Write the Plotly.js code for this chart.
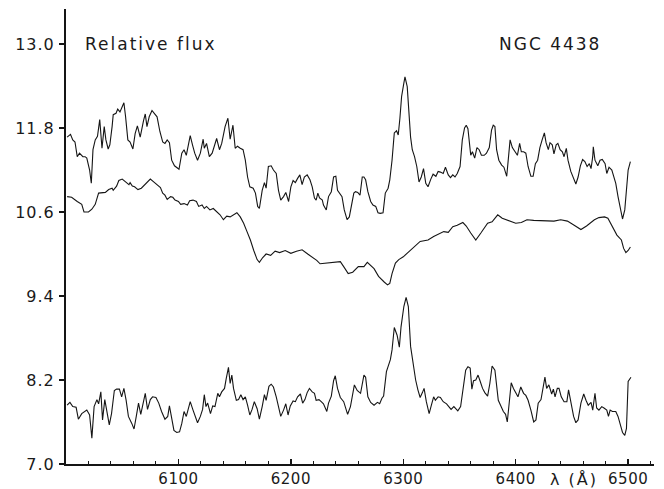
<!DOCTYPE html>
<html>
<head>
<meta charset="utf-8">
<script src="https://cdn.plot.ly/plotly-3.0.1.min.js"></script>
<style>
  html, body { margin: 0; padding: 0; background: #fff; }
  #chart { width: 664px; height: 489px; }
  .ytick text { letter-spacing: 1px; }
  .xtick text { letter-spacing: 0.5px; }
  .annotation-text { letter-spacing: 2px; }
</style>
</head>
<body>
<div id="chart"></div>
<script>
// Upper spectrum (observed, with emission lines)
const waveUpper = [6001,6004,6006,6008,6010,6012,6015,6017,6018.5,6021,6022.5,6024,6026,6028,6030,6032,6034,6035.5,6037.5,6039,6041,6042,6044.5,6046,6048,6050,6051.5,6053,6055,6057,6059.5,6061.5,6063.5,6066,6067.5,6069,6070.5,6072,6074,6076.5,6078.5,6081,6083.5,6086,6088,6090,6092,6094,6096.5,6098.5,6100.5,6103,6105,6107,6109,6110.5,6112.5,6114.5,6117,6119.5,6122,6123,6125,6127.5,6130,6132,6134,6136.5,6138.5,6141.5,6144,6146,6148.5,6150.5,6152.5,6155,6157.5,6159.5,6161.5,6163.5,6166.5,6168.5,6170.5,6172,6174.5,6176.5,6178,6180,6182.5,6184.5,6187,6189,6191,6193.5,6195.5,6198,6200,6202,6204,6206,6208,6210,6212,6214.5,6217,6219,6221,6222.5,6224,6225.5,6228,6229,6231.5,6233.5,6236,6238,6240,6241.5,6243.5,6245.5,6247.5,6250,6252,6254.5,6256,6257.5,6259.5,6261.5,6263.5,6265,6266.5,6268.5,6271,6273,6275.5,6277.5,6279.5,6282,6284,6286.5,6288,6290,6292,6294,6295.5,6297,6298.5,6300.5,6301.5,6303.5,6305,6306.5,6308,6310,6312,6314,6316,6318,6320,6322,6324.5,6326.5,6329,6331,6333,6335.5,6337.5,6340,6342,6344,6346,6348,6350.5,6352.5,6354.5,6356,6357.5,6359,6360,6361.5,6363.5,6365.5,6367.5,6369.5,6372,6374,6376.5,6378.5,6380,6381.5,6383,6385,6387.5,6389.5,6392,6393.5,6395,6397,6399,6401.5,6403.5,6405,6407,6409,6411,6413.5,6415.5,6417.5,6419.5,6421.5,6423.5,6425.5,6427,6429,6430.5,6432.5,6434,6436,6437.5,6439.5,6441.5,6443,6445,6446.5,6449,6451.5,6453.5,6455.5,6457.5,6459.5,6461.5,6463.5,6465.5,6467,6468.5,6469,6470.5,6473,6475,6477,6479.5,6481,6483,6485.5,6487,6489,6491,6493,6495,6497,6499,6500,6502];
const fluxUpper = [11.67,11.71,11.63,11.60,11.39,11.44,11.39,11.39,11.37,11.20,11.01,11.49,11.63,11.68,11.92,11.51,11.82,11.63,11.50,11.56,11.82,11.99,12.01,12.07,12.03,12.10,12.16,11.96,11.63,11.60,11.50,11.72,11.83,11.67,11.82,11.91,12.00,11.82,11.96,12.05,12.01,11.96,11.75,11.60,11.58,11.63,11.59,11.34,11.26,11.24,11.21,11.44,11.49,11.41,11.60,11.69,11.56,11.44,11.34,11.44,11.64,11.51,11.58,11.39,11.44,11.53,11.65,11.49,11.58,11.82,11.94,11.64,11.84,11.51,11.54,11.51,11.49,11.34,11.10,10.96,10.94,10.87,10.68,10.65,10.91,11.02,10.94,11.25,11.26,11.20,11.15,10.91,10.77,10.82,10.88,10.75,10.96,11.05,11.02,11.08,11.13,10.99,11.10,11.13,11.06,10.96,10.80,10.77,10.87,10.80,10.77,10.70,10.63,10.82,10.89,11.10,11.11,10.91,10.86,10.82,10.63,10.49,10.53,10.72,10.87,10.89,10.88,10.84,11.10,11.10,11.06,10.89,10.75,10.70,10.68,10.59,10.58,10.59,10.87,10.94,11.06,11.34,11.73,11.76,11.70,11.94,12.25,12.44,12.53,12.39,12.01,11.67,11.49,11.39,11.25,11.03,11.10,11.22,11.01,10.96,11.07,11.14,11.11,11.18,11.17,11.15,11.24,11.13,11.09,11.13,11.10,11.15,11.25,11.63,11.80,11.84,11.79,11.53,11.41,11.46,11.37,11.52,11.49,11.41,11.41,11.44,11.52,11.77,11.84,11.82,11.49,11.34,11.27,11.24,11.11,11.37,11.63,11.52,11.47,11.41,11.58,11.46,11.46,11.44,11.25,11.11,11.11,11.29,11.34,11.52,11.63,11.73,11.59,11.49,11.59,11.56,11.43,11.56,11.58,11.49,11.46,11.39,11.51,11.34,11.18,11.07,11.00,11.10,11.26,11.35,11.32,11.25,11.29,11.22,11.39,11.53,11.34,11.26,11.34,11.35,11.29,11.15,11.24,11.20,11.13,11.01,10.82,10.65,10.50,10.63,10.96,11.20,11.32];

// Smooth continuum
const waveMiddle = [6001,6005,6010,6014,6016,6020,6023,6026,6029,6032,6035,6038,6041,6042,6045,6047,6050,6053,6056,6057,6059,6061,6064,6067,6070,6073,6075,6078,6081,6084,6086,6088,6090,6093,6095,6097,6100,6102,6105,6108,6110,6113,6116,6118,6121,6123,6125,6128,6131,6134,6137,6140,6143,6146,6149,6152,6155,6158,6161,6164,6167,6170,6172,6175,6178,6182,6186,6190,6195,6200,6205,6210,6215,6220,6223,6226,6232,6240,6244,6247,6251,6255,6260,6265,6268,6274,6278,6283,6286,6288,6290,6293,6296,6300,6305,6310,6315,6322,6327,6336,6340,6344,6348,6353,6356,6360,6364.5,6369,6375,6379,6384,6388,6394,6400,6405,6410,6416,6422,6428,6434,6440,6446,6452,6458,6463,6467,6470,6474,6479,6482,6486,6490,6494,6496,6498,6500,6502];
const fluxMiddle = [10.82,10.81,10.75,10.71,10.60,10.60,10.64,10.71,10.87,10.88,10.88,10.92,10.94,10.91,10.97,11.05,11.07,11.03,10.99,11.02,10.97,10.96,10.92,10.94,10.99,11.05,11.07,11.03,10.99,10.95,10.87,10.84,10.78,10.82,10.81,10.77,10.75,10.71,10.72,10.70,10.76,10.77,10.75,10.68,10.70,10.65,10.68,10.63,10.65,10.60,10.56,10.49,10.54,10.53,10.56,10.59,10.53,10.44,10.32,10.20,10.05,9.92,9.88,9.95,10.00,9.98,10.04,10.02,10.05,10.01,10.04,10.06,10.00,9.95,9.91,9.86,9.87,9.88,9.89,9.82,9.72,9.74,9.82,9.82,9.88,9.79,9.68,9.60,9.56,9.58,9.72,9.87,9.92,9.96,10.03,10.10,10.18,10.20,10.25,10.32,10.31,10.39,10.41,10.45,10.40,10.30,10.20,10.30,10.44,10.46,10.56,10.51,10.48,10.44,10.45,10.49,10.48,10.48,10.48,10.47,10.49,10.47,10.41,10.35,10.40,10.45,10.49,10.52,10.53,10.51,10.39,10.27,10.20,10.08,10.02,10.05,10.10];

// Lower spectrum (continuum-subtracted, shifted)
const waveLower = [6001,6003.5,6006,6009,6011,6014,6018.5,6021,6023,6025,6027.5,6029,6031,6032.5,6034.5,6036,6038.5,6040.5,6043,6045,6047.5,6049.5,6051.5,6053.5,6055.5,6058.5,6060.5,6062.5,6064.5,6066.5,6068.5,6070.5,6072.5,6075,6077,6080,6082.5,6085,6088,6090.5,6092,6094,6096,6098.5,6101,6103,6105,6107,6109,6110.5,6113,6115,6117,6119.5,6121.5,6123,6124.5,6126,6128.5,6130.5,6132.5,6135,6136.5,6138.5,6141,6142.5,6144.5,6146,6147.5,6149,6151.5,6153.5,6155.5,6157.5,6159.5,6161.5,6163.5,6165.5,6167.5,6170,6172,6174.5,6176.5,6178,6180.5,6182.5,6184.5,6187,6189,6191,6193.5,6195.5,6197.5,6199.5,6202,6204,6206,6208.5,6210.5,6212.5,6214.5,6216.5,6219,6221,6222.5,6225,6227,6229,6232,6233.5,6236,6238,6239.5,6241.5,6244,6247,6250.5,6253,6256.5,6259,6262,6265,6266.5,6268.5,6271,6274,6277,6279,6281,6282.5,6285,6288.5,6290,6292,6294.5,6296.5,6298,6300.5,6302.5,6304.5,6306.5,6309,6311,6313,6315,6317,6318.5,6320.5,6323,6325,6327,6328.5,6331,6333,6335.5,6338.5,6340.5,6342.5,6345,6346.5,6348.5,6351,6353.5,6355.5,6357.5,6359.5,6361,6362.5,6364.5,6366.5,6368,6370.5,6372.5,6375,6377,6379,6381.5,6383,6384.5,6386.5,6389,6391,6392.5,6394,6396,6398,6400,6402,6404.5,6407,6409,6411,6413.5,6416,6418,6420,6422.5,6424,6426,6427.5,6429.5,6432,6433.5,6435,6437,6438.5,6440.5,6443,6445.5,6447,6449,6451.5,6453.5,6455.5,6458,6460.5,6462.5,6464.5,6467,6468.5,6470.5,6472,6474,6476.5,6478.5,6481,6482.5,6484,6486,6489,6491,6493,6495,6497,6498.5,6500,6502.5];
const fluxLower = [7.84,7.88,7.82,7.81,7.64,7.72,7.77,7.70,7.37,7.82,7.92,7.86,8.03,7.63,7.92,7.77,7.56,7.72,8.05,8.07,8.07,7.96,8.08,7.91,7.68,7.58,7.50,7.68,7.87,7.71,7.88,8.01,7.78,7.92,7.96,7.95,7.87,7.75,7.64,7.68,7.83,7.68,7.48,7.45,7.46,7.58,7.75,7.68,7.82,7.89,7.77,7.68,7.59,7.68,7.78,7.99,7.82,7.87,7.72,7.83,7.82,8.01,7.96,8.03,8.08,8.22,8.38,8.15,8.27,8.08,7.91,7.92,7.99,7.92,7.96,7.84,7.70,7.78,7.89,7.79,7.64,7.82,7.99,7.91,8.11,8.14,8.10,7.96,7.82,7.68,7.77,7.86,7.70,7.83,7.90,7.89,7.96,8.00,7.87,7.92,8.02,8.08,8.03,8.01,7.91,7.92,7.89,7.86,7.75,7.87,7.97,8.19,8.26,8.08,7.95,7.89,7.71,7.82,8.13,8.05,8.01,8.27,8.24,7.96,7.88,7.84,7.88,7.86,7.94,7.97,8.32,8.49,8.63,8.95,8.84,8.67,8.96,9.25,9.38,9.25,8.68,8.39,8.20,8.06,7.95,8.02,8.08,7.89,7.72,7.84,7.96,7.91,7.96,7.95,7.89,7.86,7.82,7.78,7.82,7.80,7.76,7.82,8.10,8.34,8.39,8.37,8.07,8.19,8.20,8.27,8.20,8.08,8.02,7.97,8.15,8.40,8.34,8.13,7.91,7.84,7.75,7.71,7.60,7.84,8.16,8.08,8.02,7.96,8.10,8.01,7.98,7.91,7.77,7.60,7.63,7.87,7.92,8.06,8.24,8.08,8.13,8.00,8.07,7.96,8.08,8.08,7.96,7.89,7.89,8.06,7.89,7.68,7.59,7.63,7.87,8.00,7.91,7.84,7.88,7.77,8.01,7.80,7.77,7.82,7.80,7.77,7.68,7.77,7.75,7.75,7.68,7.56,7.45,7.41,7.51,8.18,8.24];

const yTickVals = [7.0, 8.2, 9.4, 10.6, 11.8, 13.0];
const yTickText = ['7.0', '8.2', '9.4', '10.6', '11.8', '13.0'];
const xTickVals = [6100, 6200, 6300, 6400, 6500];
const xTickText = ['6100', '6200', '6300', '6400', '6500'];

const X_RANGE = [6000, 6523];
const Y_RANGE = [7.0, 13.5];
const ink = '#151515';

const lineStyle = { color: ink, width: 1.1 };
const traces = [
  { x: waveUpper, y: fluxUpper, type: 'scatter', mode: 'lines', line: lineStyle, hoverinfo: 'skip' },
  { x: waveMiddle, y: fluxMiddle, type: 'scatter', mode: 'lines', line: lineStyle, hoverinfo: 'skip' },
  { x: waveLower, y: fluxLower, type: 'scatter', mode: 'lines', line: lineStyle, hoverinfo: 'skip' }
];

const family = 'DejaVu Sans, sans-serif';
const textColor = '#1a1a1a';

const layout = {
  width: 664, height: 489,
  margin: { l: 66, r: 10, t: 9, b: 25 },
  paper_bgcolor: '#fff', plot_bgcolor: '#fff',
  showlegend: false,
  font: { family: family, size: 16, color: textColor },
  // bottom axis: frame line, labels and the inner half of the major ticks
  xaxis: {
    range: X_RANGE, showgrid: false, zeroline: false,
    showline: true, linecolor: ink, linewidth: 2,
    ticks: 'inside', ticklen: 5, tickwidth: 1.3, tickcolor: ink,
    tickvals: xTickVals, ticktext: xTickText, ticklabelstandoff: 0,
    tickfont: { family: family, size: 15, color: textColor },
    minor: { ticks: 'inside', ticklen: 3, tickwidth: 1, tickcolor: ink, dtick: 20, tick0: 6000 }
  },
  // outer stubs of the major ticks below the frame
  xaxis2: {
    overlaying: 'x', anchor: 'y', side: 'bottom', range: X_RANGE,
    showgrid: false, zeroline: false, showline: false, showticklabels: false,
    ticks: 'outside', ticklen: 3, tickwidth: 1.3, tickcolor: ink,
    tickvals: xTickVals
  },
  // top frame with minor ticks
  xaxis3: {
    overlaying: 'x', anchor: 'y', side: 'top', range: X_RANGE,
    showgrid: false, zeroline: false, showline: true, linecolor: '#333', linewidth: 1.4,
    showticklabels: false, ticks: 'inside', ticklen: 4, tickwidth: 1, tickcolor: '#333',
    tick0: 6000, dtick: 20
  },
  yaxis: {
    range: Y_RANGE, showgrid: false, zeroline: false,
    showline: true, linecolor: ink, linewidth: 2,
    ticks: 'outside', ticklen: 5, tickwidth: 1.3, tickcolor: ink,
    tickvals: yTickVals, ticktext: yTickText, ticklabelstandoff: 1,
    tickfont: { family: family, size: 16, color: textColor }
  },
  yaxis2: {
    overlaying: 'y', anchor: 'x', side: 'left', range: Y_RANGE,
    showgrid: false, zeroline: false, showline: false, showticklabels: false,
    ticks: 'inside', ticklen: 5, tickwidth: 1.3, tickcolor: ink,
    tick0: 7.0, dtick: 1.2,
    minor: { ticks: 'inside', ticklen: 4, tickwidth: 1, tickcolor: ink, dtick: 0.6, tick0: 7.0 }
  },
  yaxis3: {
    overlaying: 'y', anchor: 'x', side: 'right', range: Y_RANGE,
    showgrid: false, zeroline: false, showline: true, linecolor: '#333', linewidth: 1.4,
    showticklabels: false, ticks: 'inside', ticklen: 4, tickwidth: 1, tickcolor: '#333',
    tick0: 7.0, dtick: 0.6
  },
  annotations: [
    { text: 'Relative flux', xref: 'paper', yref: 'y', x: 0.029, y: 13.0,
      xanchor: 'left', yanchor: 'middle', showarrow: false, font: { family: family, size: 17, color: textColor } },
    { text: 'NGC 4438', xref: 'x', yref: 'y', x: 6383, y: 13.0,
      xanchor: 'left', yanchor: 'middle', showarrow: false, font: { family: family, size: 17, color: textColor } },
    { text: 'λ (Å)', xref: 'x', yref: 'paper', x: 6452, y: 0, yshift: -15,
      xanchor: 'center', yanchor: 'middle', showarrow: false, font: { family: family, size: 16, color: textColor } }
  ]
};

Plotly.newPlot('chart', traces, layout, { staticPlot: true, displayModeBar: false });
</script>
</body>
</html>
